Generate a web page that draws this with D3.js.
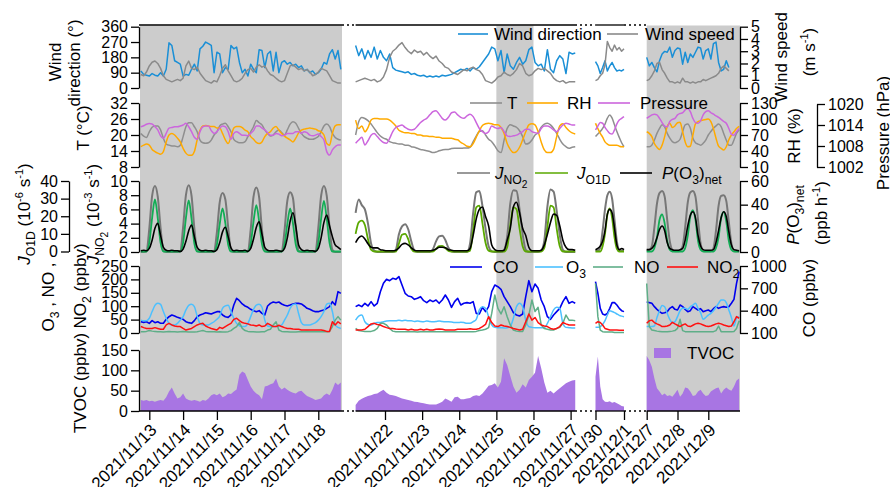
<!DOCTYPE html>
<html><head><meta charset="utf-8">
<script src="https://cdn.jsdelivr.net/npm/d3@7"></script>
<style>
body{margin:0;background:#fff;}
svg{font-family:"Liberation Sans",Arial,sans-serif;}
</style></head><body>
<svg id="c" width="890" height="487"></svg>
<script>
// ---------- time grid (2-hourly samples, one start per segment) ----------
const segStarts = ["2021-11-12T18:00:00Z","2021-11-21T05:00:00Z","2021-11-30T00:00:00Z","2021-12-07T00:00:00Z"];
const tickLabels = [
  ["2021/11/13","2021/11/14","2021/11/15","2021/11/16","2021/11/17","2021/11/18"],
  ["2021/11/22","2021/11/23","2021/11/24","2021/11/25","2021/11/26","2021/11/27"],
  ["2021/11/30","2021/12/1"],
  ["2021/12/7","2021/12/8","2021/12/9"]
];
const shadeDays = ["2021/11/25","2021/11/26"];

// ---------- wind ----------
const wdir1=[100,80,75,70,85,75,70,90,70,110,265,250,160,150,140,70,80,75,110,140,100,230,245,270,260,250,90,210,200,90,120,110,250,230,240,150,90,110,70,140,110,90,225,220,120,200,215,100,210,90,150,160,140,150,130,140,120,130,100,110,90,100,80,90,110,150,140,200,225,170,220,110];
const wdir2=[250,190,230,170,220,180,240,170,220,180,160,200,120,105,100,95,90,95,80,85,75,70,75,65,70,65,70,65,75,70,75,80,90,100,110,105,115,100,120,110,125,150,175,200,240,230,160,220,90,200,130,110,150,180,140,160,225,240,150,130,140,100,225,110,90,160,190,170,85,210,200,205];
const wdir3=[155,130,85,120,160,100,130,150,120,100,105,100,110];
const wdir4=[180,130,150,120,95,160,200,215,210,240,180,220,235,230,140,210,150,200,180,210,240,235,170,220,230,170,260,270,150,100,110,160,120];
const wspd1=[1.1,1.0,1.3,1.8,2.1,2.2,2.0,1.6,1.0,0.7,0.6,0.5,0.6,0.7,0.6,0.8,1.8,2.2,1.6,1.5,1.7,1.2,0.9,0.6,0.5,0.4,0.6,0.5,1.0,1.6,1.9,1.4,1.0,0.6,0.5,0.6,0.8,1.2,1.5,1.6,1.3,1.7,1.9,1.7,1.8,1.4,1.1,1.0,0.8,0.6,0.5,0.6,1.2,1.8,1.9,1.7,1.5,1.6,1.4,1.5,1.3,1.0,1.1,1.3,1.6,1.5,1.4,1.0,0.6,0.5,0.4,0.4];
const wspd2=[0.5,0.6,0.7,0.8,0.7,0.6,0.7,0.5,0.6,0.9,1.5,2.5,3.0,3.2,3.5,3.7,3.3,3.0,2.8,3.1,2.9,3.0,2.7,2.9,2.6,2.4,2.6,2.2,2.0,1.7,1.6,1.3,1.2,1.1,1.3,1.5,1.4,1.6,1.7,1.5,1.4,1.1,0.6,0.5,0.4,0.6,0.9,1.0,1.3,1.1,1.0,1.2,1.5,2.0,1.8,1.2,1.0,1.1,1.4,1.6,1.5,1.6,1.4,1.2,0.8,0.6,0.5,0.6,0.4,0.5,0.5,0.5];
const wspd3=[0.6,0.7,1.0,1.2,1.9,3.8,3.3,3.0,3.5,3.1,3.3,3.0,3.2];
const wspd4=[0.6,0.7,1.0,1.4,2.0,2.1,1.5,1.2,0.8,0.5,0.5,0.4,0.5,0.4,0.8,0.5,0.5,0.4,0.5,0.4,0.5,0.5,0.7,0.6,0.7,0.8,0.9,1.0,1.2,1.6,1.8,1.6,1.4];

// ---------- T, RH, pressure ----------
const temp1=[20.6,19.6,19.1,21.2,22.9,23.4,23.4,21.9,18.8,16.6,16.2,15.9,15.9,15.6,16.2,19.4,23.1,24.6,24.6,23.1,21.2,18.1,17.1,16.9,17.1,18.1,20.0,21.2,23.4,24.1,24.4,23.1,21.2,18.4,17.5,17.1,17.1,17.5,19.4,21.2,23.1,25.4,24.6,23.8,21.9,20.6,19.6,20.0,21.2,21.9,20.9,20.0,21.9,24.1,25.0,24.4,22.5,20.6,19.4,18.8,18.4,18.4,18.8,19.4,21.2,23.4,24.1,23.1,20.6,19.1,18.4,18.1];
const temp2=[20,25,26.6,26.2,25.4,24.1,22.5,20.9,19.6,18.8,18.4,17.5,17.1,16.9,16.6,16.6,16.2,16.2,15.6,15.4,15,14.6,14.4,14.1,13.8,13.4,13.6,14.1,14.4,14.6,14.6,14.9,15,15,15,15.1,15.1,15.4,17.5,19.6,21.3,21.6,20,18.4,17.5,15.9,14.1,13.4,18.1,22.5,23.8,23.4,22.9,21.6,19.4,16.6,16.9,18.1,20,20.9,22.9,24.1,24.4,23.8,22.5,20.6,18.4,16.6,15.6,15,15.4,15.6];
const temp3=[19.4,20.4,21.3,22.5,24.1,26.3,27.5,26.3,23.8,21.3,19.1,17.1,15.6];
const temp4=[15.6,15.6,16.2,18.1,20.6,22.5,23.8,23.1,20.6,18.8,17.5,17.1,17.5,18.4,21.3,23.8,24.1,22.5,18.8,17.1,16.6,16.2,16.9,18.1,20,21.3,22.5,23.4,24.1,23.1,20.6,18.1,16.2,16.2,18.1,20.6,21.9];
const rh1=[48,51,53,51,43,39,36,34,39,57,70,73,70,64,57,45,36,32,32,39,61,79,87,88,87,86,86,83,83,73,61,54,67,83,86,86,84,79,76,67,62,56,54,57,67,73,76,83,86,79,73,68,64,61,57,64,74,79,81,82,83,82,81,78,76,70,54,51,73,87,89,89];
const rh2=[98,82,87,76,84,98,101,101,100,100,100,98,93,87,79,76,74,74,73,73,70,70,68,68,67,67,66,66,64,64,64,64,62,61,56,53,49,48,54,66,78,88,91,92,91,89,89,84,73,54,43,37,39,47,61,76,89,91,89,76,57,42,37,37,43,67,87,91,84,78,74,72];
const rh3=[92,82,73,66,57,53,51,51,51,51,49,48,48];
const rh4=[76,73,67,54,47,43,51,67,86,92,84,87,93,94,76,57,48,49,70,91,95,97,98,99,100,95,82,64,49,45,42,48,61,70,76,82,86];
const pres1=[1013.5,1013.8,1014.2,1014.4,1014.3,1013.5,1012.6,1010.9,1010.2,1011.6,1013.1,1013.3,1013.5,1013.5,1013.7,1014.0,1014.5,1013.5,1012.1,1010.5,1009.9,1012.1,1013.5,1013.7,1013.7,1012.4,1011.6,1012.1,1013.1,1013.7,1013.5,1012.1,1009.9,1011.6,1012.1,1011.6,1011.1,1011.1,1010.9,1011.6,1012.4,1013.7,1013.7,1013.1,1012.6,1011.8,1011.1,1011.1,1011.6,1011.4,1010.9,1011.1,1011.6,1011.6,1011.6,1012.1,1012.1,1011.6,1012.1,1011.8,1011.1,1010.9,1011.1,1011.4,1010.7,1009.7,1006.4,1005.4,1006.9,1007.8,1008.3,1008.3];
const pres2=[1008.8,1009.7,1010.5,1008.3,1009.5,1011.1,1011.6,1010.7,1009.7,1009.0,1008.8,1010.2,1012.1,1013.3,1013.7,1014.0,1013.3,1012.8,1012.6,1012.8,1013.7,1014.7,1015.4,1015.9,1016.9,1017.8,1018.1,1017.1,1015.9,1015.4,1016.2,1017.5,1017.7,1016.9,1016.2,1015.9,1016.6,1017.1,1016.4,1014.7,1013.0,1012.1,1011.6,1012.1,1013.7,1013.3,1013.0,1013.3,1012.1,1010.9,1010.7,1010.9,1011.1,1011.6,1012.1,1012.8,1012.8,1012.1,1011.8,1011.6,1013.0,1013.7,1013.7,1013.3,1012.6,1012.1,1013.0,1014.0,1014.5,1014.3,1014.0,1014.0];
const pres3=[1012.6,1013.7,1014.7,1014.5,1013.3,1012.4,1011.6,1011.4,1012.6,1014.3,1015.4,1015.9,1016.4];
const pres4=[1015.9,1016.4,1016.9,1017.1,1016.9,1015.9,1014.7,1013.7,1013.5,1015.0,1015.6,1015.9,1016.9,1017.3,1017.5,1018.3,1018.7,1017.8,1015.9,1014.7,1014.5,1015.2,1016.9,1017.8,1018.1,1017.5,1017.1,1016.6,1016.2,1015.6,1015.0,1014.5,1013.0,1011.4,1011.1,1012.1,1013.0];

// ---------- photolysis & P(O3)net ----------
const jno2_1=[0,0,0.1,3.3,7.9,9.3,7.8,3.4,0.2,0,0,0,0,0,0.1,3.5,8.0,9.4,7.9,3.3,0.2,0,0,0,0,0,0.1,2.8,7.0,8.3,7.4,3.5,0.2,0,0,0,0,0,0.1,3.2,7.8,9.1,7.7,3.1,0.2,0,0,0,0,0,0.1,3.0,7.2,8.4,7.6,3.4,0.2,0,0,0,0,0,0.1,3.4,7.9,9.3,7.9,3.5,0.3,0,0,0];
const jno2_2=[5.5,7.4,6.6,6.0,4.0,1.2,0.2,0,0,0,0,0,0,0.3,2.5,3.6,3.9,3.2,1.5,0.2,0,0,0,0,0,0.4,1.5,2.2,2.3,1.7,0.6,0.1,0,0,0,0,0,1.2,5.5,8.4,8.6,6.5,3.3,0.8,0.1,0,0,0,0.3,2.2,6.8,8.7,8.6,6.0,2.5,0.3,0,0,0,0,0.2,1.6,6.4,8.8,8.5,5.8,2.4,0.3,0,0,0,0];
const jno2_3=[0.2,0.2,0.6,3.0,6.0,8.0,8.5,7.5,4.5,1.5,0.3,0.2,0.2];
const jno2_4=[0.2,0.3,0.8,3.5,6.8,8.3,8.6,7.8,4.5,1.5,0.3,0.1,0.1,0.2,0.8,3.5,7,8.4,8.6,7.8,4.5,1.2,0.2,0.1,0.1,0.1,0.5,3,6.5,7.9,8.0,7.2,4.2,1.2,0.2,0.1,0.1];
const jo1d_1=[0,0,0,5,19,29.5,19,5,0,0,0,0,0,0,0,5,19,29,18.5,4.5,0,0,0,0,0,0,0,4,15.5,24.4,16,4,0,0,0,0,0,0,0,4.5,17,26.3,17,4.2,0,0,0,0,0,0,0,4,15.5,24.4,16,4,0,0,0,0,0,0,0,5,18.5,28.7,18.5,4.8,0,0,0,0];
const jo1d_2=[10,16.5,17.5,15,7,1,0,0,0,0,0,0,0,0,4.5,9.5,10,7,1.5,0,0,0,0,0,0,0,1.5,3,3.2,2,0.3,0,0,0,0,0,0,0.5,12,25,26,16,5,0.5,0,0,0,0,0,2.5,15,25,24,13,3,0,0,0,0,0,0,2,14,26,25,13,3,0,0,0,0,0];
const jo1d_3=[0,0,0,3,10,21,24.4,19,8,1.5,0,0,0];
const jo1d_4=[0,0,0,2,8,18,21,16,6,1,0,0,0,0,0,2,9,20,23.4,18,6,1,0,0,0,0,0,2,8,19,22.5,17,6,1,0,0,0];
const po3_1=[1,1.5,1,3,10,20,24.3,14,4,1.5,1,1.5,1,1,0.5,2.5,9,18,22.8,13,4,1.5,1,1.5,1,1,0.5,2,8,17,20.9,13,3.5,1,1.5,1,1,1.5,0.5,3,11,21,25.6,15,4,1.5,1,1,1.5,1,0.5,3,12,26,33.2,22,6,2,1,1.5,1,1,0.5,3,12,25,31.3,22,13,6,4,2];
const po3_2=[8,12,13.5,11,7,4,3.5,3.5,2,1.5,1,1,1,1.5,3.5,6.5,7.3,6,3.5,1.5,1,1,1,1,1,1.5,2.5,4,4,3.5,2,1.5,1,1,1,1,1,3,14,28,36,38,30,22,6,2,1,1,1.5,10,20,38,42,33,20,14,4,1,1,1,1.5,6,15,25,32,31,22,10,4,2,2,1.5];
const po3_3=[2,3,5,9,18,32,36,33,20,6,2,3,2];
const po3_4=[2,2,3,6,12,19,22,18,8,3,2,1.5,1.5,2,3,10,22,31,34,29,14,5,2,1.5,1.5,1.5,2,8,18,29,34,30,17,6,2,1.5,1];

// ---------- trace gases ----------
const co1=[252,243,252,230,266,239,252,230,230,284,319,342,328,310,297,284,252,239,230,266,319,342,355,373,364,355,373,387,387,342,319,310,342,476,566,534,490,463,445,418,400,387,400,364,342,463,498,516,507,516,490,472,463,476,490,498,498,490,463,431,418,400,387,387,400,409,431,454,521,476,655,633];
const co2=[454,476,454,499,463,521,463,499,655,767,821,803,834,821,857,745,633,597,588,552,566,588,534,508,543,521,543,499,543,610,543,445,521,566,476,499,508,499,521,364,355,445,387,454,655,745,722,687,588,521,454,373,342,328,355,588,803,655,758,700,543,454,319,284,342,387,431,521,588,499,521,499];
const co3=[790,633,431,355,342,364,431,508,508,476,431,400,387];
const co4=[521,508,499,454,418,387,364,373,387,431,454,418,409,476,454,418,387,400,454,431,409,427,387,400,409,387,427,454,431,445,454,445,454,499,552,767,924];
const o3_1=[48,46,46,55,80,103,111,107,80,55,36,30,30,36,48,61,86,103,107,98,63,36,30,30,30,36,42,51,63,92,101,104,80,55,36,27,24,24,36,61,88,104,107,96,48,26,24,24,24,26,30,48,67,92,106,108,73,39,30,30,30,34,39,48,61,80,108,111,80,30,21,17];
const o3_2=[48,63,67,42,32,30,36,39,39,42,45,46,46,46,48,46,48,46,46,43,45,43,42,45,43,42,43,45,43,42,42,41,39,39,40,39,36,36,42,51,86,98,92,61,30,21,20,20,19,20,24,55,98,111,98,48,24,21,20,20,20,20,36,61,86,96,92,36,21,20,19,19];
const o3_3=[21,21,24,32,46,67,83,80,76,71,66,63,61];
const o3_4=[24,24,24,26,58,83,103,98,73,51,39,42,61,83,92,92,88,98,104,111,92,76,51,58,67,73,83,96,111,123,123,113,86,58,26,55,61];
const no_1=[5,5,6,9,7,6,5,5,4,5,6,5,5,4,5,6,5,4,4,4,5,7,9,6,5,5,5,4,5,4,4,5,9,17,24,39,17,9,6,5,5,4,4,5,5,11,14,30,42,11,6,5,5,4,4,4,5,5,5,6,5,5,5,5,5,5,5,6,24,48,61,48];
const no_2=[17,9,7,6,6,6,9,17,36,36,30,17,7,5,5,5,5,5,5,5,4,5,5,5,5,5,5,5,5,5,5,5,5,5,5,5,5,5,5,6,9,11,14,20,73,142,92,71,98,61,30,11,7,6,6,30,67,123,80,96,30,17,14,11,11,17,21,36,67,48,48,46];
const no_3=[185,61,11,5,4,4,4,4,2,2,2,2,2];
const no_4=[185,24,11,9,7,6,5,5,5,6,7,9,17,51,9,5,5,5,5,5,5,5,5,5,5,5,5,9,26,5,5,5,5,5,6,17,46];
const no2_1=[24,20,17,17,17,20,17,14,14,30,36,30,26,24,24,17,11,14,17,24,30,34,36,26,21,17,14,11,21,17,24,30,36,51,55,46,39,36,34,30,29,26,30,24,26,36,30,24,24,29,24,20,17,17,15,14,14,11,11,11,11,11,11,11,11,9,6,6,42,30,42,34];
const no2_2=[11,11,11,14,24,34,36,32,30,24,20,17,17,15,14,14,14,11,14,11,11,14,11,14,11,11,14,15,14,11,11,11,11,14,14,14,14,16,14,14,17,24,32,61,39,26,24,30,26,24,21,17,14,11,14,42,71,48,58,39,30,26,24,17,14,17,24,39,34,30,30,30];
const no2_3=[36,42,39,30,17,14,11,11,11,11,10,10,10];
const no2_4=[36,46,48,39,34,30,24,24,26,30,40,34,29,24,30,34,26,24,29,34,36,34,30,26,24,26,30,34,36,34,30,27,24,26,42,61,55];

// ---------- TVOC ----------
const tvoc1=[27,25,27,24,25,23,25,27,25,34,48,58,43,31,34,43,31,27,25,27,25,23,27,25,31,39,42,39,43,34,37,43,42,48,53,89,97,93,76,60,50,43,39,29,60,62,66,68,80,60,53,58,52,48,45,43,48,50,43,37,34,31,27,29,31,39,43,39,52,70,64,70];
const tvoc2=[15,25,30,34,37,39,42,43,48,52,45,40,39,37,34,31,29,27,25,23,22,20,19,17,16,16,16,19,23,31,27,23,34,35,29,29,31,32,37,39,37,43,52,62,64,68,58,72,130,113,86,60,45,52,66,58,76,84,94,135,105,70,45,50,43,50,56,62,68,72,75,76];
const tvoc3=[84,134,60,29,23,22,24,20,22,19,16,12,11];
const tvoc4=[135,125,109,80,56,48,39,43,37,39,35,43,52,35,43,58,56,48,37,39,48,52,43,37,39,48,52,56,58,43,52,58,53,50,60,75,80];

// ---------- axis tick values ----------
const wdirTicks=[0,90,180,270,360], wspdTicks=[0,1,2,3,4,5];
const tTicks=[8,14,20,26,32], rhTicks=[10,40,70,100,130], pTicks=[1002,1008,1014,1020];
const jno2Ticks=[0,2,4,6,8,10], jo1dTicks=[0,10,20,30,40], po3Ticks=[0,20,40,60];
const gasTicks=[0,50,100,150,200,250], coTicks=[100,400,700,1000], tvocTicks=[0,50,100,150];

// ================= drawing =================
const svg=d3.select('#c');
const parseT=d3.utcParse("%Y/%m/%d");
const segPx=[[149.3,318.3],[385,570.6],[595.5,624],[646.7,708.3]];
const segExt=[[139,342],[355.6,575],[595.5,624],[646.7,740]];
const xs=tickLabels.map((L,k)=>d3.scaleUtc().domain([parseT(L[0]),parseT(L[L.length-1])]).range(segPx[k]));
const tOf=(k,i)=>new Date(Date.parse(segStarts[k])+i*7200000);
const XL=139, XR=740, YTOP=25, YBOT=411;

const y={
  wdir:d3.scaleLinear([0,360],[88,26.7]), wspd:d3.scaleLinear([0,5],[88,26.7]),
  t:d3.scaleLinear([8,32],[167,103]), rh:d3.scaleLinear([10,130],[167,103]), p:d3.scaleLinear([1002,1020],[167,104]),
  jno2:d3.scaleLinear([0,10],[252,181]), jo1d:d3.scaleLinear([0,40],[251.5,181]), po3:d3.scaleLinear([0,60],[252,181]),
  gas:d3.scaleLinear([0,250],[333,266]), co:d3.scaleLinear([100,1000],[333,266]), tvoc:d3.scaleLinear([0,150],[411,350])
};
const C={wdir:"#1a8fd6",wspd:"#8a8a8a",t:"#8f8f8f",rh:"#ffaa00",p:"#cc66dd",jno2:"#777777",
  jo1d:["#12ad55","#5aa800","#5aa800","#12ad55"],po3:"#000000",co:"#0000ee",o3:"#4cc0ff",no:"#5fae88",no2:"#ff1010",tvoc:"#a875e3"};

// shading
const shadeG=svg.append('g');
[[segExt[0][0]+1,segExt[0][1]],[xs[1](parseT(shadeDays[0])),xs[1](parseT(shadeDays[1]))],[segExt[3][0],segExt[3][1]]].forEach(([a,b])=>{
  shadeG.append('rect').attr('x',a).attr('y',YTOP+0.5).attr('width',b-a).attr('height',YBOT-YTOP-0.5).attr('fill','#cccccc');
});

const gD=svg.append('g');
// TVOC area
[tvoc1,tvoc2,tvoc3,tvoc4].forEach((arr,k)=>{
  const ar=d3.area().x((d,i)=>xs[k](tOf(k,i))).y0(y.tvoc(0)).y1(d=>y.tvoc(d));
  gD.append('path').attr('d',ar(arr)).attr('fill',C.tvoc);
});
function drawLine(arrs,ys,color,w,curve){
  arrs.forEach((arr,k)=>{
    const ln=d3.line().x((d,i)=>xs[k](tOf(k,i))).y(d=>ys(d)).curve(curve||d3.curveLinear);
    gD.append('path').attr('d',ln(arr)).attr('fill','none').attr('stroke',Array.isArray(color)?color[k]:color)
      .attr('stroke-width',w).attr('stroke-linejoin','round');
  });
}
const sm=d3.curveMonotoneX;
drawLine([wdir1,wdir2,wdir3,wdir4],y.wdir,C.wdir,1.5);
drawLine([wspd1,wspd2,wspd3,wspd4],y.wspd,C.wspd,1.5);
drawLine([temp1,temp2,temp3,temp4],y.t,C.t,1.5,sm);
drawLine([rh1,rh2,rh3,rh4],y.rh,C.rh,1.5,sm);
drawLine([pres1,pres2,pres3,pres4],y.p,C.p,1.5,sm);
drawLine([jno2_1,jno2_2,jno2_3,jno2_4],y.jno2,C.jno2,2,sm);
drawLine([jo1d_1,jo1d_2,jo1d_3,jo1d_4],y.jo1d,C.jo1d,1.8,sm);
drawLine([po3_1,po3_2,po3_3,po3_4],y.po3,C.po3,1.6,sm);
drawLine([co1,co2,co3,co4],y.co,C.co,1.6);
drawLine([o3_1,o3_2,o3_3,o3_4],y.gas,C.o3,1.5,sm);
drawLine([no_1,no_2,no_3,no_4],y.gas,C.no,1.5);
drawLine([no2_1,no2_2,no2_3,no2_4],y.gas,C.no2,1.5);

// axes
function styleAx(g,fs){
  g.attr('font-size',fs||16).attr('font-family',null);
  g.selectAll('path,line').attr('stroke','#000').attr('stroke-width',1.3);
  g.selectAll('text').attr('fill','#000');
}
function ax(orient,x,scale,ticks){
  const a=(orient==='l'?d3.axisLeft(scale):d3.axisRight(scale)).tickValues(ticks).tickSize(8).tickSizeOuter(0).tickPadding(3).tickFormat(d3.format('d'));
  const g=svg.append('g').attr('transform',`translate(${x},0)`).call(a); styleAx(g); return g;
}
ax('l',XL,y.wdir,wdirTicks); ax('l',XL,y.t,tTicks); ax('l',XL,y.jno2,jno2Ticks); ax('l',XL,y.gas,gasTicks); ax('l',XL,y.tvoc,tvocTicks);
ax('l',69,y.jo1d,jo1dTicks);
ax('r',XR,y.wspd,wspdTicks); ax('r',XR,y.rh,rhTicks); ax('r',XR,y.po3,po3Ticks); ax('r',XR,y.co,coTicks);
ax('r',817,y.p,pTicks);

// x axes per segment
tickLabels.forEach((L,k)=>{
  const a=d3.axisBottom(xs[k]).tickValues(L.map(parseT)).tickFormat((d,i)=>L[i]).tickSize(9).tickSizeOuter(0);
  const g=svg.append('g').attr('transform',`translate(0,${YBOT})`).call(a);
  styleAx(g,17); g.select('.domain').remove();
  g.selectAll('text').attr('x',0).attr('y',0).attr('dy',0).attr('text-anchor','end').attr('transform','translate(8,20) rotate(-45)');
});
// frame lines (solid for segments, dotted for breaks)
const fr=svg.append('g').attr('stroke','#000').attr('stroke-width',1.3);
segExt.forEach(([a,b],k)=>{
  fr.append('line').attr('x1',a).attr('x2',b).attr('y1',YBOT).attr('y2',YBOT);
  if(k<3) fr.append('line').attr('x1',a).attr('x2',b).attr('y1',YTOP).attr('y2',YTOP);
  if(k<3){
    const nx=segExt[k+1][0];
    [YBOT,YTOP].forEach(yy=>fr.append('line').attr('x1',b).attr('x2',nx).attr('y1',yy).attr('y2',yy).attr('stroke-dasharray','2,3'));
  }
});

// rich text helper
function rich(t,parts,fs){
  let cur=0;
  parts.forEach(([s,st])=>{
    let sh=0,sz=fs;
    if(st.includes('sub2')){sh=fs*0.5;sz=fs*0.6;}
    else if(st.includes('sub')){sh=fs*0.3;sz=fs*0.72;}
    else if(st.includes('sup')){sh=-fs*0.42;sz=fs*0.65;}
    const ts=t.append('tspan').attr('dy',(sh-cur).toFixed(2)).attr('font-size',sz.toFixed(1)).text(s);
    if(st.includes('i')) ts.attr('font-style','italic');
    cur=sh;
  });
}
function rot(x,yc,parts,fs=17){
  const t=svg.append('text').attr('transform',`translate(${x},${yc}) rotate(-90)`).attr('text-anchor','middle').attr('font-size',fs);
  rich(t,parts,fs);
}
// axis titles
rot(61,62,[["Wind",""]]);
rot(80,63,[["direction (°)",""]]);
rot(89,128,[["T (°C)",""]]);
rot(99,214,[["J","i"],["NO","sub"],["2","sub2"],[" (10",""],["-3","sup"],[" s",""],["-1","sup"],[")",""]]);
rot(30,214,[["J","i"],["O1D","sub"],[" (10",""],["-6","sup"],[" s",""],["-1","sup"],[")",""]]);
rot(54,297,[["O",""],["3","sub"],[" , NO ,",""]]);
rot(86,286,[["NO",""],["2","sub"],[" (ppbv)",""]]);
rot(86,383,[["TVOC (ppbv)",""]]);
rot(787,57,[["Wind speed",""]]);
rot(815,52,[["(m s",""],["-1","sup"],[")",""]]);
rot(800,136,[["RH (%)",""]]);
rot(889,133,[["Pressure (hPa)",""]]);
rot(799,215,[["P","i"],["(O",""],["3","sub"],[")",""],["net","sub"]]);
rot(827,213,[["(ppb h",""],["-1","sup"],[")",""]]);
rot(815,298,[["CO (ppbv)",""]]);

// legends
function leg(x1,x2,yy,color,tx,parts){
  svg.append('line').attr('x1',x1).attr('x2',x2).attr('y1',yy).attr('y2',yy).attr('stroke',color).attr('stroke-width',1.6);
  const t=svg.append('text').attr('x',tx).attr('y',yy+6).attr('font-size',17);
  rich(t,parts,17);
}
leg(458,488,34,C.wdir,494,[["Wind direction",""]]);
leg(607,638,34,C.wspd,645,[["Wind speed",""]]);
leg(470,502,103,C.t,507,[["T",""]]);
leg(527,558,103,C.rh,567,[["RH",""]]);
leg(598,630,103,C.p,640,[["Pressure",""]]);
leg(457,490,173,C.jno2,495,[["J","i"],["NO","sub"],["2","sub2"]]);
leg(535,568,173,C.jo1d[1],577,[["J","i"],["O1D","sub"]]);
leg(620,652,173,C.po3,662,[["P","i"],["(O",""],["3","sub"],[")",""],["net","sub"]]);
leg(450,482,267,C.co,493,[["CO",""]]);
leg(535,563,267,C.o3,566,[["O",""],["3","sub"]]);
leg(593,623,267,C.no,634,[["NO",""]]);
leg(667,698,267,C.no2,707,[["NO",""],["2","sub"]]);
svg.append('rect').attr('x',654).attr('y',348).attr('width',17).attr('height',10).attr('fill',C.tvoc);
svg.append('text').attr('x',687).attr('y',359).attr('font-size',17).text('TVOC');
</script>
</body></html>
